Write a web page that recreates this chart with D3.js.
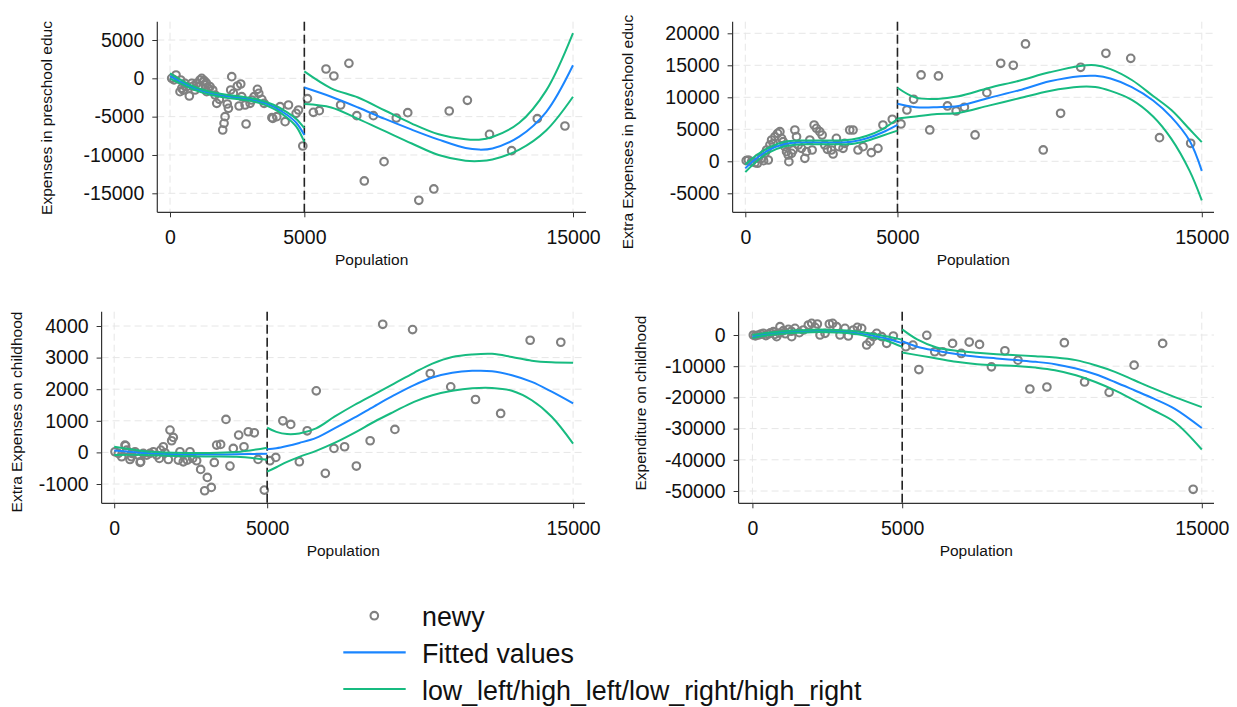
<!DOCTYPE html>
<html>
<head>
<meta charset="utf-8">
<script src="https://cdn.jsdelivr.net/npm/d3@7"></script>
<style>
  body { margin: 0; background: #fff; }
  svg { font-family: "Liberation Sans", Arial, sans-serif; }
  .grid { stroke: #e6e6e6; stroke-width: 1; stroke-dasharray: 7,4; }
  .tick text { fill: #111; }
</style>
</head>
<body>
<script>
// ---- data ----
var xTicks = [0, 5000, 15000];
var cutoff = 5000;

// panel 1: Expenses in preschool educ
var yTicks1 = [5000, 0, -5000, -10000, -15000];
var pts1 = [[62,0],[150,-200],[224,430],[373,-1743],[398,-220],[440,-1300],[497,-1530],[559,-656],[621,-1090],[720,-2300],
  [807,-656],[869,-1000],[931,-1526],[993,-656],[1055,-1090],[1118,-220],[1180,0],[1242,-440],[1270,-300],[1304,-870],
  [1350,-600],[1366,-1743],[1428,-1309],[1490,-1090],[1590,-1526],[1677,-2178],[1739,-3265],[1838,-2744],[1962,-6743],
  [2012,-5874],[2049,-5004],[2131,-3348],[2174,-3917],[2260,-1526],[2298,213],[2360,-1961],[2509,-1004],[2572,-3609],
  [2633,-743],[2670,-2396],[2795,-3483],[2832,-5961],[2981,-3265],[3043,-2830],[3130,-2396],[3254,-1439],[3304,-1961],
  [3416,-2744],[3503,-3265],[3793,-5130],[3826,-5222],[3975,-5004],[4099,-3700],[4285,-5657],[4409,-3483],[4695,-4570],
  [4782,-4135],[4943,-8830],
  [5116,-2652],[5336,-4435],[5557,-4217],[5807,1217],[6100,304],[6350,-3478],[6659,1957],[6953,-4870],[7232,-13391],
  [7570,-4870],[7967,-10870],[8423,-5174],[8849,-4478],[9261,-15913],[9820,-14435],[10393,-4261],[11069,-2870],
  [11892,-7304],[12715,-9435],[13671,-5261],[14700,-6217]];
var left1X   = [0, 400, 900, 1500, 2100, 2700, 3300, 3850, 4350, 4700, 5000];
var left1Fit = [300, -450, -1300, -1950, -2350, -2600, -3000, -3700, -4750, -5800, -7400];
var left1Hi  = [650, -200, -1100, -1750, -2150, -2400, -2800, -3450, -4400, -5300, -6500];
var left1Lo  = [-50, -700, -1500, -2150, -2550, -2800, -3200, -3950, -5100, -6300, -8300];
var right1X   = [5000, 6000, 7000, 8000, 9000, 10000, 11000, 11500, 12000, 13000, 14000, 15000];
var right1Fit = [-1200, -2400, -3800, -5300, -6700, -8000, -9100, -9300, -9150, -7600, -4400, 1700];
var right1Hi  = [900, -1300, -2500, -4200, -5900, -7300, -7950, -8000, -7650, -5800, -1600, 5900];
var right1Lo  = [-3350, -3800, -5300, -6900, -8500, -10000, -10750, -10800, -10600, -9300, -6800, -2400];

// panel 2: Extra Expenses in preschool educ
var yTicks2 = [20000, 15000, 10000, 5000, 0, -5000];
var pts2 = [[30,100],[99,203],[208,-57],[318,-213],[400,-300],[427,463],[536,463],[600,100],[645,1245],[700,1766],[755,203],
  [809,2547],[864,3328],[918,2807],[973,3849],[1061,4370],[1137,4630],[1192,3589],[1246,3068],[1301,2287],[1356,1505],
  [1410,984],[1432,-57],[1519,1245],[1574,1766],[1628,4891],[1683,3849],[1738,2547],[1847,2026],[1956,463],[2010,1505],
  [2120,3328],[2196,1766],[2262,5672],[2338,5151],[2447,4630],[2524,4110],[2611,2547],[2698,1870],[2829,1766],[2884,1141],
  [2993,3589],[3070,2287],[3212,2026],[3267,2807],[3431,4891],[3540,4891],[3704,1766],[3868,2287],[4141,1349],[4359,2026],
  [4523,5672],[4830,6562],
  [5115,5833],[5310,8021],[5530,9687],[5776,13489],[6061,4896],[6346,13333],[6643,8646],[6928,7864],[7200,8437],
  [7550,4114],[7938,10729],[8392,15312],[8806,15000],[9207,18333],[9790,1771],[10360,7500],[11020,14687],[11849,16875],
  [12665,16093],[13610,3698],[14634,2812]];
var left2X   = [0, 300, 750, 1300, 1850, 2400, 2950, 3500, 4000, 4500, 5000];
var left2Fit = [-1100, 200, 1700, 2700, 2950, 2950, 2950, 3050, 3600, 4500, 5700];
var left2Hi  = [-500, 700, 2100, 3050, 3250, 3250, 3250, 3400, 4000, 5000, 6600];
var left2Lo  = [-1700, -300, 1300, 2350, 2650, 2650, 2650, 2700, 3200, 4000, 4800];
var right2X   = [5000, 5600, 6300, 7000, 8000, 9000, 10000, 11000, 11500, 12000, 12700, 13400, 14000, 14600, 15000];
var right2Fit = [9000, 8450, 8450, 8650, 9900, 11100, 12500, 13300, 13350, 12950, 11600, 9500, 6900, 3200, -1500];
var right2Hi  = [11500, 9950, 9750, 10150, 11450, 12600, 13900, 14900, 15000, 14400, 12700, 10200, 8000, 5000, 3000];
var right2Lo  = [6700, 7000, 7400, 7550, 8700, 9850, 11000, 11650, 11600, 11000, 9600, 7000, 3500, -1500, -6100];

// panel 3: Extra Expenses on childhood
var yTicks3 = [4000, 3000, 2000, 1000, 0, -1000];
var pts3 = [[26,20],[135,-33],[244,-138],[353,231],[373,211],[408,73],[516,-223],[565,-137],[571,-33],[680,20],[789,-85],
  [848,-316],[865,-297],[952,-33],[1061,-85],[1170,-33],[1279,20],[1388,-85],[1475,-191],[1518,73],[1605,178],[1660,-12],
  [1769,-223],[1824,706],[1878,368],[1932,474],[2096,-244],[2150,20],[2259,-297],[2390,-244],[2477,20],[2564,-191],
  [2695,-265],[2826,-539],[2957,-1214],[3044,-792],[3174,-1109],[3272,-318],[3349,231],[3479,252],[3654,1043],[3784,-434],
  [3893,126],[4068,548],[4242,178],[4383,653],[4580,621],[4703,-221],[4906,-1193],
  [5089,-263],[5282,-158],[5513,1000],[5770,885],[6052,-295],[6309,684],[6605,1948],[6901,-663],[7184,126],[7530,179],
  [7916,-432],[8366,369],[8777,4054],[9175,727],[9753,3886],[10331,2496],[11000,2074],[11810,1674],[12632,1232],
  [13596,3549],[14598,3485]];
var left3X   = [0, 1000, 2000, 3000, 4000, 5000];
var left3Fit = [60, -20, -60, -70, -60, -40];
var left3Hi  = [180, 40, -10, -20, 10, 150];
var left3Lo  = [-80, -80, -110, -130, -140, -230];
var right3X   = [5000, 5300, 5650, 6050, 6600, 7200, 7850, 8500, 9150, 9800, 10400, 11050, 11700, 12350, 13000, 13650, 14300, 15000];
var right3Fit = [100, 130, 200, 300, 460, 760, 1100, 1460, 1810, 2130, 2370, 2520, 2580, 2570, 2440, 2230, 1920, 1550];
var right3Hi  = [780, 650, 580, 600, 760, 1130, 1500, 1840, 2180, 2520, 2810, 3020, 3100, 3120, 3020, 2900, 2850, 2840];
var right3Lo  = [-610, -470, -300, -140, 50, 300, 620, 970, 1290, 1600, 1810, 1950, 2030, 2040, 1950, 1650, 1130, 280];

// panel 4: Expenditure on childhood
var yTicks4 = [0, -10000, -20000, -30000, -40000, -50000];
var pts4 = [[31,0],[100,-300],[198,0],[280,300],[365,534],[450,-200],[532,320],[600,700],[699,1068],[750,200],[810,-534],
  [900,600],[921,2671],[1033,1389],[1100,400],[1200,1816],[1300,1200],[1311,-534],[1422,2137],[1567,748],[1700,1602],
  [1867,3205],[1978,3739],[2090,2457],[2168,3525],[2257,0],[2424,534],[2568,3525],[2679,3739],[2813,2671],[2924,0],
  [3091,2137],[3202,-320],[3369,1602],[3503,2457],[3647,2137],[3814,-3205],[3925,-2137],[4036,-534],[4148,534],
  [4315,-534],[4481,-2671],[4704,-320],
  [5120,-3763],[5358,-3225],[5556,-11072],[5821,-107],[6086,-5375],[6350,-5375],[6681,-2688],[6972,-5913],[7237,-2258],
  [7581,-3010],[7978,-10213],[8428,-5053],[8864,-8063],[9261,-17308],[9830,-16663],[10412,-2473],[11087,-15050],
  [11907,-18383],[12741,-9675],[13693,-2688],[14712,-49450]];
var left4X   = [0, 500, 1000, 1500, 2000, 2500, 3000, 3500, 4000, 4500, 5000];
var left4Fit = [-500, 300, 800, 1100, 1300, 1300, 1100, 600, -200, -1200, -2600];
var left4Hi  = [0, 700, 1200, 1500, 1700, 1700, 1500, 1100, 400, -500, -1500];
var left4Lo  = [-1000, -100, 400, 700, 900, 900, 700, 200, -800, -1900, -3800];
var right4X   = [5000, 5500, 6150, 6800, 7500, 8150, 8800, 9450, 10100, 10800, 11450, 12100, 12750, 13400, 14100, 15000];
var right4Fit = [-2000, -3750, -5050, -6100, -7000, -7500, -8050, -8600, -9350, -10750, -12600, -15050, -17700, -20400, -23650, -29800];
var right4Hi  = [1800, -1400, -4000, -5050, -5700, -6150, -6450, -6800, -7200, -8050, -9700, -11800, -14500, -17200, -19900, -23100];
var right4Lo  = [-5600, -6450, -7500, -8600, -9350, -9700, -9900, -10450, -11300, -12900, -15050, -17750, -20950, -24200, -27950, -36700];

var titles = ["Expenses in preschool educ", "Extra Expenses in preschool educ",
              "Extra Expenses on childhood", "Expenditure on childhood"];
var legendLabels = ["newy", "Fitted values", "low_left/high_left/low_right/high_right"];

var blue = "#1a85ff", green = "#17bb80", gray = "#808080";

// ---- layout of the four panels ----
var panels = [
  { title: titles[0], pts: pts1, yTicks: yTicks1,
    L: [left1X, left1Fit, left1Lo, left1Hi], R: [right1X, right1Fit, right1Lo, right1Hi],
    axisX: 157.3, x0: 170, x15: 573, right: 586, top: 21.7, bottom: 212.3,
    yd: [5000, -15000], yr: [40, 193.3], tx: 47, ty: 118 },
  { title: titles[1], pts: pts2, yTicks: yTicks2,
    L: [left2X, left2Fit, left2Lo, left2Hi], R: [right2X, right2Fit, right2Lo, right2Hi],
    axisX: 732.6, x0: 745.3, x15: 1201.8, right: 1214, top: 21.7, bottom: 212.3,
    yd: [20000, -5000], yr: [33.3, 193.3], tx: 628, ty: 132 },
  { title: titles[2], pts: pts3, yTicks: yTicks3,
    L: [left3X, left3Fit, left3Lo, left3Hi], R: [right3X, right3Fit, right3Lo, right3Hi],
    axisX: 101.6, x0: 114.2, x15: 573.1, right: 585, top: 311.7, bottom: 503.3,
    yd: [4000, -1000], yr: [326, 484], tx: 16.6, ty: 412 },
  { title: titles[3], pts: pts4, yTicks: yTicks4,
    L: [left4X, left4Fit, left4Lo, left4Hi], R: [right4X, right4Fit, right4Lo, right4Hi],
    axisX: 738.6, x0: 752.4, x15: 1201.8, right: 1214, top: 311.7, bottom: 503.3,
    yd: [0, -50000], yr: [335, 491], tx: 640.5, ty: 403 }
];

var width = 1237, height = 707;
var svg = d3.select("body").append("svg")
  .attr("width", width)
  .attr("height", height);

panels.forEach(function(p) {
  var x = d3.scaleLinear().domain([0, 15000]).range([p.x0, p.x15]);
  var y = d3.scaleLinear().domain(p.yd).range(p.yr);
  var g = svg.append("g");

  // grid lines
  g.selectAll(".hgrid").data(p.yTicks).enter().append("line")
    .attr("class", "grid")
    .attr("x1", p.axisX).attr("x2", p.right)
    .attr("y1", function(d) { return y(d); }).attr("y2", function(d) { return y(d); });
  g.selectAll(".vgrid").data(xTicks).enter().append("line")
    .attr("class", "grid")
    .attr("x1", function(d) { return x(d); }).attr("x2", function(d) { return x(d); })
    .attr("y1", p.top).attr("y2", p.bottom);

  // axes
  var ya = g.append("g").attr("transform", "translate(" + p.axisX + ",0)")
    .call(d3.axisLeft(y).tickValues(p.yTicks).tickSize(5).tickPadding(8).tickFormat(d3.format("d")));
  ya.select(".domain").remove();
  var xa = g.append("g").attr("transform", "translate(0," + p.bottom + ")")
    .call(d3.axisBottom(x).tickValues(xTicks).tickSize(5).tickPadding(13).tickFormat(d3.format("d")));
  xa.select(".domain").remove();
  g.selectAll(".tick text").attr("font-size", 19.5).attr("font-family", "Liberation Sans, Arial, sans-serif");
  g.selectAll(".tick line").attr("stroke", "#333");
  g.selectAll(".tick text").text(function(d) { return String(d).replace("−", "-"); });

  g.append("line").attr("x1", p.axisX).attr("x2", p.axisX).attr("y1", p.top).attr("y2", p.bottom)
    .attr("stroke", "#333").attr("stroke-width", 1.2);
  g.append("line").attr("x1", p.axisX).attr("x2", p.right).attr("y1", p.bottom).attr("y2", p.bottom)
    .attr("stroke", "#333").attr("stroke-width", 1.2);

  // titles
  g.append("text")
    .attr("x", (p.axisX + p.right) / 2).attr("y", p.bottom + 53)
    .attr("text-anchor", "middle").attr("font-size", 15.5).attr("fill", "#111")
    .text("Population");
  g.append("text")
    .attr("transform", "translate(" + (p.tx + 5) + "," + p.ty + ") rotate(-90)")
    .attr("text-anchor", "middle").attr("font-size", 15.5).attr("fill", "#111")
    .text(p.title);

  // scatter
  g.selectAll(".pt").data(p.pts).enter().append("circle")
    .attr("cx", function(d) { return x(d[0]); })
    .attr("cy", function(d) { return y(d[1]); })
    .attr("r", 3.8)
    .attr("fill", "none").attr("stroke", gray).attr("stroke-width", 2.1);

  // cutoff line
  g.append("line").attr("x1", x(cutoff)).attr("x2", x(cutoff)).attr("y1", p.top).attr("y2", p.bottom)
    .attr("stroke", "#222").attr("stroke-width", 1.6).attr("stroke-dasharray", "9,4");

  // fitted lines + bands
  var line = d3.line().curve(d3.curveCatmullRom.alpha(0.5))
    .x(function(d) { return x(d[0]); }).y(function(d) { return y(d[1]); });
  [p.L, p.R].forEach(function(seg) {
    var xs = seg[0];
    g.append("path").attr("d", line(xs.map(function(v, i) { return [v, seg[1][i]]; })))
      .attr("fill", "none").attr("stroke", blue).attr("stroke-width", 2);
    [seg[2], seg[3]].forEach(function(ys) {
      g.append("path").attr("d", line(xs.map(function(v, i) { return [v, ys[i]]; })))
        .attr("fill", "none").attr("stroke", green).attr("stroke-width", 2);
    });
  });
});

// legend
var leg = svg.append("g");
var rows = [615.7, 652.3, 689];
leg.append("circle").attr("cx", 374.3).attr("cy", rows[0]).attr("r", 3.8)
  .attr("fill", "none").attr("stroke", gray).attr("stroke-width", 2.1);
leg.append("line").attr("x1", 343.3).attr("x2", 405.7).attr("y1", rows[1]).attr("y2", rows[1])
  .attr("stroke", blue).attr("stroke-width", 2.2);
leg.append("line").attr("x1", 343.3).attr("x2", 405.7).attr("y1", rows[2]).attr("y2", rows[2])
  .attr("stroke", green).attr("stroke-width", 2.2);
leg.selectAll(".lt").data(legendLabels).enter().append("text")
  .attr("x", 422).attr("y", function(d, i) { return rows[i] + 10.5; })
  .attr("font-size", 26.8).attr("fill", "#111")
  .text(function(d) { return d; });
</script>
</body>
</html>
